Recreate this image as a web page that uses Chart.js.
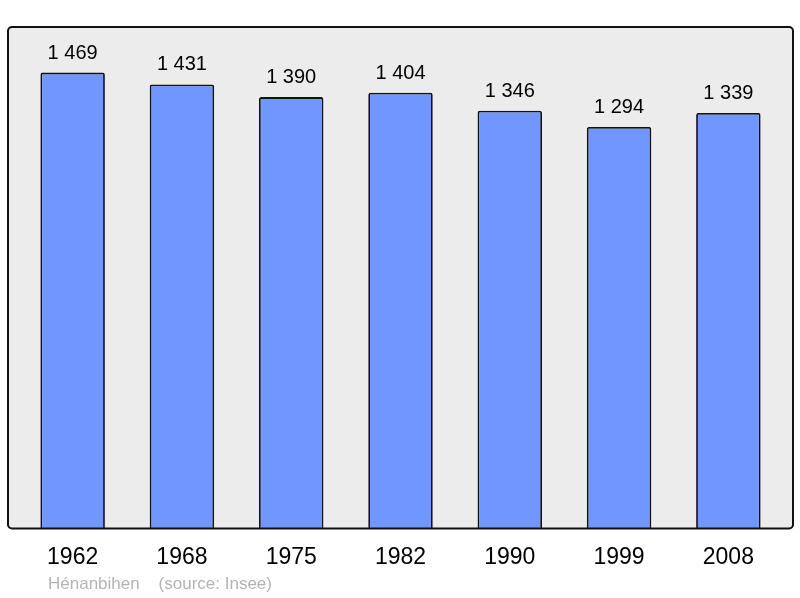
<!DOCTYPE html>
<html>
<head>
<meta charset="utf-8">
<script src="https://cdn.jsdelivr.net/npm/chart.js@4/dist/chart.umd.min.js"></script>
<style>
  html, body { margin: 0; padding: 0; background: #fff; }
  #wrap { width: 800px; height: 598px; position: relative; }
</style>
</head>
<body>
<div id="wrap"><canvas id="chart"></canvas></div>
<script>
const years = ["1962", "1968", "1975", "1982", "1990", "1999", "2008"];
const population = [1469, 1431, 1390, 1404, 1346, 1294, 1339];
const footerText = "Hénanbihen    (source: Insee)";

// grey box + frame around the plot
const framePlugin = {
    id: "frame",
    beforeDatasetsDraw(chart) {
        const { ctx, chartArea: a } = chart;
        ctx.save();
        ctx.fillStyle = "#ececec";
        ctx.beginPath();
        ctx.roundRect(a.left - 10, a.top, a.right - a.left + 20, a.bottom - a.top, 4);
        ctx.fill();
        ctx.restore();
    },
    afterDatasetsDraw(chart) {
        const { ctx, chartArea: a } = chart;
        ctx.save();
        ctx.strokeStyle = "#111";
        ctx.lineWidth = 2;
        ctx.beginPath();
        ctx.roundRect(a.left - 10, a.top, a.right - a.left + 20, a.bottom - a.top, 4);
        ctx.stroke();

        // value labels above bars
        ctx.fillStyle = "#000";
        ctx.font = "20px 'Liberation Sans', Arial, sans-serif";
        ctx.textAlign = "center";
        ctx.textBaseline = "alphabetic";
        chart.getDatasetMeta(0).data.forEach((bar, i) => {
            const v = population[i].toString().replace(/\B(?=(\d{3})+(?!\d))/g, " ");
            ctx.fillText(v, bar.x, bar.y - 14);
        });

        // footer
        ctx.fillStyle = "#b4b4b4";
        ctx.font = "17px 'Liberation Sans', Arial, sans-serif";
        ctx.textAlign = "left";
        ctx.fillText(footerText, 48, 589);
        ctx.restore();
    }
};

new Chart(document.getElementById("chart"), {
    type: "bar",
    data: {
        labels: years,
        datasets: [{
            data: population,
            backgroundColor: "#7096ff",
            borderColor: "#111",
            borderWidth: 1.8,
            borderRadius: 2,
            borderSkipped: "bottom",
            barPercentage: 0.59,
            categoryPercentage: 1
        }]
    },
    options: {
        responsive: true,
        maintainAspectRatio: false,
        animation: false,
        layout: { padding: { top: 27, left: 18, right: 17, bottom: 20 } },
        plugins: {
            legend: { display: false },
            tooltip: { enabled: false }
        },
        scales: {
            x: {
                grid: { display: false },
                border: { display: false },
                ticks: {
                    color: "#000",
                    padding: 7,
                    font: { family: "'Liberation Sans', Arial, sans-serif", size: 23 }
                }
            },
            y: {
                display: false,
                min: 0,
                max: 1616
            }
        }
    },
    plugins: [framePlugin]
});
</script>
</body>
</html>
